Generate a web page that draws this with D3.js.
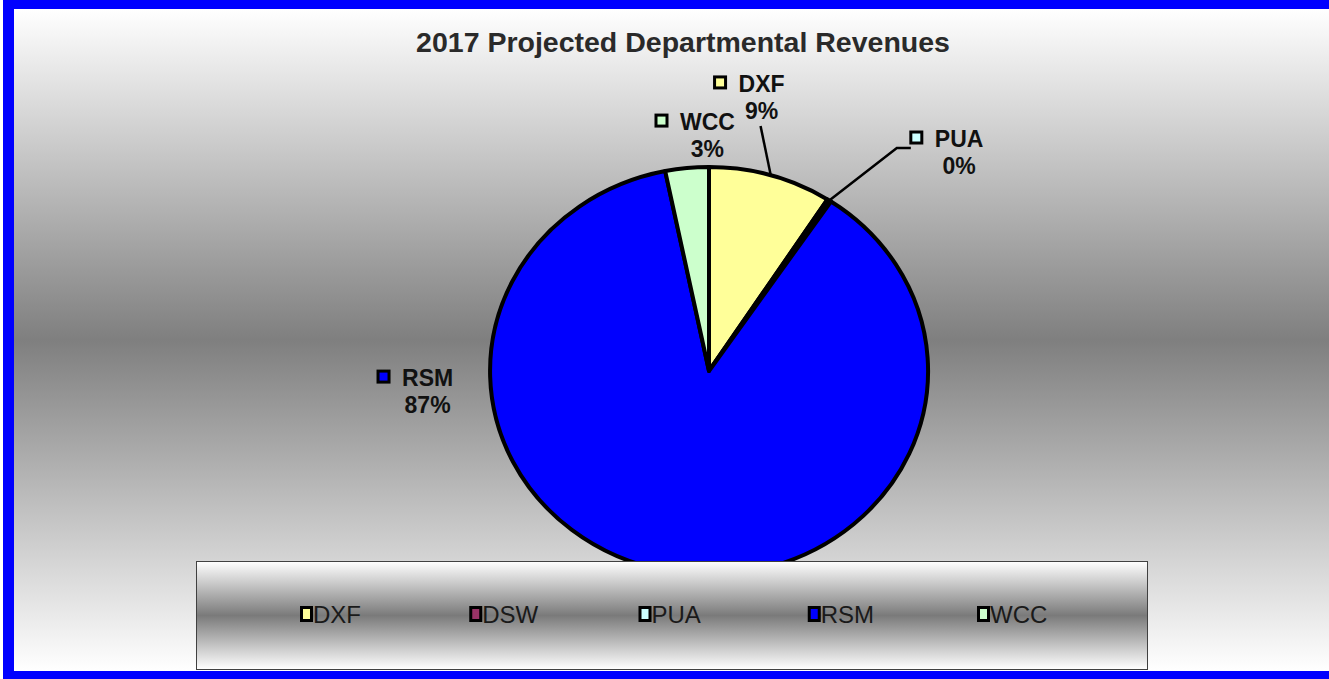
<html>
<head>
  <meta charset="UTF-8">
  <style>
  body { margin: 0; background: #fff; overflow: hidden; }
  svg { display: block; }
  text { font-family: "Liberation Sans", Arial, sans-serif; }
  </style>
  <script src="https://cdn.jsdelivr.net/npm/d3@7"></script>
</head>
<body>
<div class="chart"></div>
<script>

// data
var categories = ["DXF", "DSW", "PUA", "RSM", "WCC"];
var revenueShare = [9.1, 0, 0.3, 87.4, 3.2];
var sliceColors = ["#ffff99", "#993366", "#ccffff", "#0000ff", "#ccffcc"];
var chartTitle = "2017 Projected Departmental Revenues";

// label layout, in units of the pie radii (x: rx, y: ry), anchored at the name text
var labelLayout = {
  DXF: {dx: 0.240, dy: -1.368, leader: "bottom"},
  PUA: {dx: 1.142, dy: -1.098, leader: "side"},
  RSM: {dx: -1.285, dy: 0.074, leader: null},
  WCC: {dx: -0.007, dy: -1.181, leader: null}
};

var width = 1329, height = 679;
var cx = 709, cy = 371, rx = 219, ry = 204;

var svg = d3.select(".chart").append("svg")
    .attr("width", width)
    .attr("height", height);

var defs = svg.append("defs");

function grad(id, mid) {
  var g = defs.append("linearGradient")
      .attr("id", id)
      .attr("x1", 0).attr("y1", 0).attr("x2", 0).attr("y2", 1);
  g.append("stop").attr("offset", "0%").attr("stop-color", "#ffffff");
  g.append("stop").attr("offset", "50%").attr("stop-color", mid);
  g.append("stop").attr("offset", "100%").attr("stop-color", "#ffffff");
}
grad("bgGrad", "#7f7f7f");
grad("legGrad", "#7a7a7a");

// blue frame + chart area (right edge of the frame is cut off)
svg.append("rect")
    .attr("x", 3).attr("y", 0)
    .attr("width", width).attr("height", height)
    .style("fill", "#0000ff");

svg.append("rect")
    .attr("x", 14).attr("y", 9)
    .attr("width", width).attr("height", 662)
    .style("fill", "url(#bgGrad)");

svg.append("text")
    .attr("x", 683)
    .attr("y", 52)
    .style("text-anchor", "middle")
    .style("font-weight", "bold")
    .style("font-size", "28.5px")
    .style("fill", "#2a2a2a")
    .text(chartTitle);

var data = categories.map(function(c, i) {
  return {name: c, value: revenueShare[i], color: sliceColors[i]};
});
var total = d3.sum(data, function(d) { return d.value; });

var pie = d3.pie().sort(null).value(function(d) { return d.value; });
var arcs = pie(data);

var arc = d3.arc().innerRadius(0).outerRadius(1);

var pieG = svg.append("g")
    .attr("transform", "translate(" + cx + "," + cy + ") scale(" + rx + "," + ry + ")");

pieG.selectAll("path")
    .data(arcs.filter(function(d) { return d.data.value > 0; }))
  .enter().append("path")
    .attr("d", arc)
    .attr("vector-effect", "non-scaling-stroke")
    .style("fill", function(d) { return d.data.color; })
    .style("stroke", "#000")
    .style("stroke-width", 4)
    .style("stroke-linejoin", "round");

// point on the ellipse edge at an angle (0 = top, clockwise)
function edgePoint(a) {
  return [cx + rx * Math.sin(a), cy - ry * Math.cos(a)];
}

var labels = svg.append("g");

arcs.forEach(function(d) {
  var lay = labelLayout[d.data.name];
  if (!lay || d.data.value <= 0) return;
  var x = cx + lay.dx * rx, y = cy + lay.dy * ry;
  var pct = Math.round(d.data.value / total * 100) + "%";

  var g = labels.append("g");
  var name = g.append("text")
      .attr("x", x).attr("y", y)
      .style("text-anchor", "middle")
      .style("font-weight", "bold")
      .style("font-size", "23px")
      .style("fill", "#111")
      .text(d.data.name);
  g.append("text")
      .attr("x", x).attr("y", y + 27)
      .style("text-anchor", "middle")
      .style("font-weight", "bold")
      .style("font-size", "23px")
      .style("fill", "#111")
      .text(pct);

  var w = name.node().getComputedTextLength();
  g.append("rect")
      .attr("x", x - w / 2 - 24).attr("y", y - 15)
      .attr("width", 11).attr("height", 11)
      .style("fill", d.data.color)
      .style("stroke", "#000")
      .style("stroke-width", 3);

  var end = edgePoint((d.startAngle + d.endAngle) / 2);
  if (lay.leader == "bottom") {
    labels.append("path")
        .attr("d", d3.line()([[x - 1, y + 34], end]))
        .style("fill", "none").style("stroke", "#000").style("stroke-width", 2.5);
  } else if (lay.leader == "side") {
    var sx = x - w / 2 - 38;
    labels.append("path")
        .attr("d", d3.line()([[sx + 14, y + 1], [sx, y + 1], end]))
        .style("fill", "none").style("stroke", "#000").style("stroke-width", 2.5);
  }
});

// legend
var legend = svg.append("g");
legend.append("rect")
    .attr("x", 196.5).attr("y", 561.5)
    .attr("width", 951).attr("height", 108)
    .style("fill", "url(#legGrad)")
    .style("stroke", "#404040")
    .style("stroke-width", 1);

var lx = d3.scalePoint().domain(categories).range([300, 977]);

var item = legend.selectAll(".item")
    .data(data)
  .enter().append("g")
    .attr("class", "item")
    .attr("transform", function(d) { return "translate(" + lx(d.name) + ",614)"; });

item.append("rect")
    .attr("x", 1.5).attr("y", -6.5)
    .attr("width", 10).attr("height", 13)
    .style("fill", function(d) { return d.color; })
    .style("stroke", "#000")
    .style("stroke-width", 3);

item.append("text")
    .attr("x", 13)
    .attr("y", 9)
    .style("font-size", "24px")
    .style("fill", "#1a1a1a")
    .text(function(d) { return d.name; });

</script>
</body>
</html>
